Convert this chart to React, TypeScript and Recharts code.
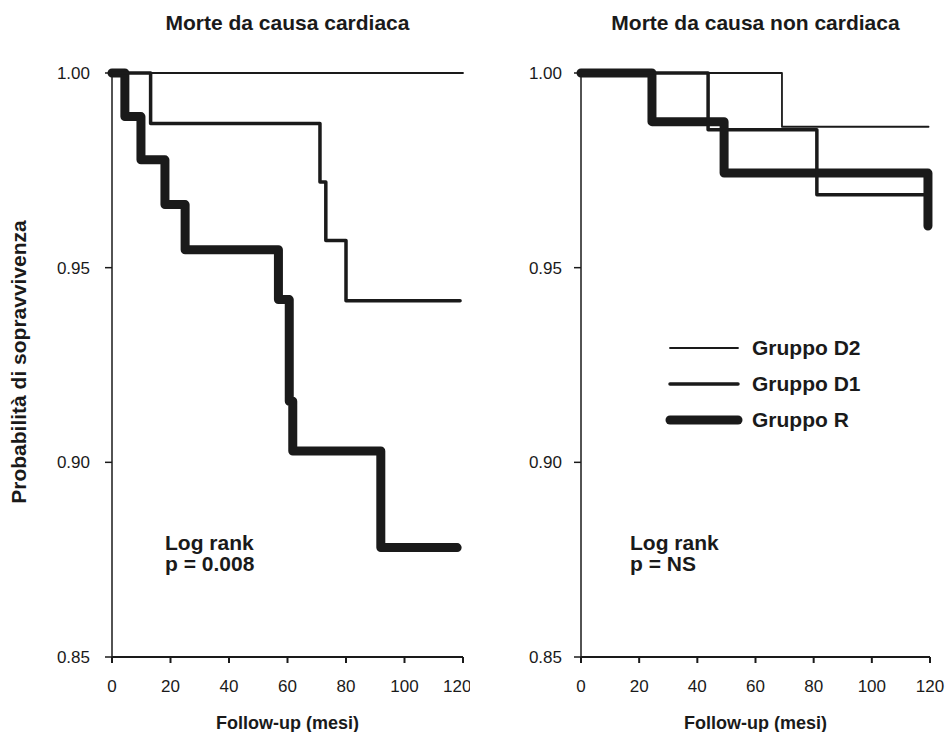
import { LineChart, Line, XAxis, YAxis, Legend } from "recharts";

const FONT = "'Liberation Sans', Arial, Helvetica, sans-serif";
const INK = "#1a1a1a";

const monthTicks = [0, 20, 40, 60, 80, 100, 120];
const survivalTicks = [0.85, 0.9, 0.95, 1.0];

// Morte da causa cardiaca
const cardD2Months = [0, 120];
const cardD2Surv = [1, 1];
const cardD1Months = [0, 13.2, 71.1, 73.1, 80, 119];
const cardD1Surv = [1, 0.987, 0.972, 0.957, 0.9415, 0.9415];
const cardRMonths = [0, 4.4, 9.9, 18.1, 25, 56.9, 60.6, 61.8, 91.9, 118];
const cardRSurv = [1, 0.9888, 0.9777, 0.9662, 0.9546, 0.9418, 0.9157, 0.9029, 0.8781, 0.8781];

// Morte da causa non cardiaca
const nonCardD2Months = [0, 69.1, 119.5];
const nonCardD2Surv = [1, 0.9862, 0.9862];
const nonCardD1Months = [0, 43.7, 81.1, 119];
const nonCardD1Surv = [1, 0.9854, 0.9687, 0.9687];
const nonCardRMonths = [0, 24.4, 49.2, 119.3];
const nonCardRSurv = [1, 0.9875, 0.9743, 0.9607];

const groupNames = ["Gruppo D2", "Gruppo D1", "Gruppo R"];
const groupWidths = [1.8, 3.5, 9];

const toPoints = (months: number[], surv: number[]) =>
  months.map((m, i) => ({ month: m, surv: surv[i] }));

const cardCurves = [
  toPoints(cardD2Months, cardD2Surv),
  toPoints(cardD1Months, cardD1Surv),
  toPoints(cardRMonths, cardRSurv),
];
const nonCardCurves = [
  toPoints(nonCardD2Months, nonCardD2Surv),
  toPoints(nonCardD1Months, nonCardD1Surv),
  toPoints(nonCardRMonths, nonCardRSurv),
];

const GroupLegend = () => (
  <div style={{ fontFamily: FONT }}>
    {groupNames.map((name, i) => (
      <div key={name} style={{ display: "flex", alignItems: "center", height: 36 }}>
        <svg width={80} height={14}>
          <line x1={5} x2={73} y1={7} y2={7} stroke={INK} strokeWidth={groupWidths[i]} strokeLinecap="round" />
        </svg>
        <span style={{ marginLeft: 7, fontWeight: 700, fontSize: 21, color: INK }}>{name}</span>
      </div>
    ))}
  </div>
);

interface PanelProps {
  title: string;
  curves: { month: number; surv: number }[][];
  pLabel: string;
  chartLeft: number;
  chartWidth: number;
  plotLeft: number;
  plotRight: number;
  tickGap: number;
  noteX: number;
  withYLabel?: boolean;
  withLegend?: boolean;
}

function SurvivalPanel(p: PanelProps) {
  const center = (p.plotLeft + p.chartWidth - p.plotRight) / 2;
  // thick curve first so the thin ones sit on top
  const order = [2, 1, 0];
  return (
    <div style={{ position: "absolute", left: p.chartLeft, top: 0 }}>
      <LineChart
        width={p.chartWidth}
        height={732}
        margin={{ top: 73, right: p.plotRight, bottom: 0, left: 0 }}
      >
        <XAxis
          type="number"
          dataKey="month"
          domain={[0, 120]}
          ticks={monthTicks}
          height={75}
          tickSize={6}
          tickMargin={17}
          stroke={INK}
          strokeWidth={2}
          tick={{ fill: INK, fontSize: 17, fontFamily: FONT }}
        />
        <YAxis
          type="number"
          domain={[0.85, 1]}
          ticks={survivalTicks}
          width={p.plotLeft}
          tickSize={7}
          tickMargin={p.tickGap}
          tickFormatter={(v: number) => v.toFixed(2)}
          stroke={INK}
          strokeWidth={1.5}
          tick={{ fill: INK, fontSize: 17, fontFamily: FONT }}
        />
        {order.map((i) => (
          <Line
            key={groupNames[i]}
            data={p.curves[i]}
            dataKey="surv"
            name={groupNames[i]}
            type="stepAfter"
            stroke={INK}
            strokeWidth={groupWidths[i]}
            strokeLinecap="round"
            strokeLinejoin="round"
            dot={false}
            activeDot={false}
            isAnimationActive={false}
          />
        ))}
        {p.withLegend && (
          <Legend
            layout="vertical"
            align="center"
            verticalAlign="middle"
            content={<GroupLegend />}
            wrapperStyle={{ left: 195, top: 330, width: 230 }}
          />
        )}
        <text x={center} y={30} textAnchor="middle" fontFamily={FONT} fontWeight={700} fontSize={21} fill={INK}>
          {p.title}
        </text>
        <text x={center} y={729} textAnchor="middle" fontFamily={FONT} fontWeight={700} fontSize={18} fill={INK}>
          Follow-up (mesi)
        </text>
        <text fontFamily={FONT} fontWeight={700} fontSize={21} fill={INK}>
          <tspan x={p.noteX} y={550}>Log rank</tspan>
          <tspan x={p.noteX} y={571}>{p.pLabel}</tspan>
        </text>
        {p.withYLabel && (
          <text
            x={26}
            y={362}
            transform="rotate(-90 26 362)"
            textAnchor="middle"
            fontFamily={FONT}
            fontWeight={700}
            fontSize={21}
            fill={INK}
          >
            Probabilità di sopravvivenza
          </text>
        )}
      </LineChart>
    </div>
  );
}

export default function App() {
  return (
    <div style={{ position: "absolute", left: 0, top: 0, width: 947, height: 732, background: "#fff" }}>
      <SurvivalPanel
        title="Morte da causa cardiaca"
        curves={cardCurves}
        pLabel="p = 0.008"
        chartLeft={0}
        chartWidth={470}
        plotLeft={112}
        plotRight={7}
        tickGap={15}
        noteX={165}
        withYLabel
      />
      <SurvivalPanel
        title="Morte da causa non cardiaca"
        curves={nonCardCurves}
        pLabel="p = NS"
        chartLeft={470}
        chartWidth={477}
        plotLeft={111}
        plotRight={17}
        tickGap={12}
        noteX={160}
        withLegend
      />
    </div>
  );
}
